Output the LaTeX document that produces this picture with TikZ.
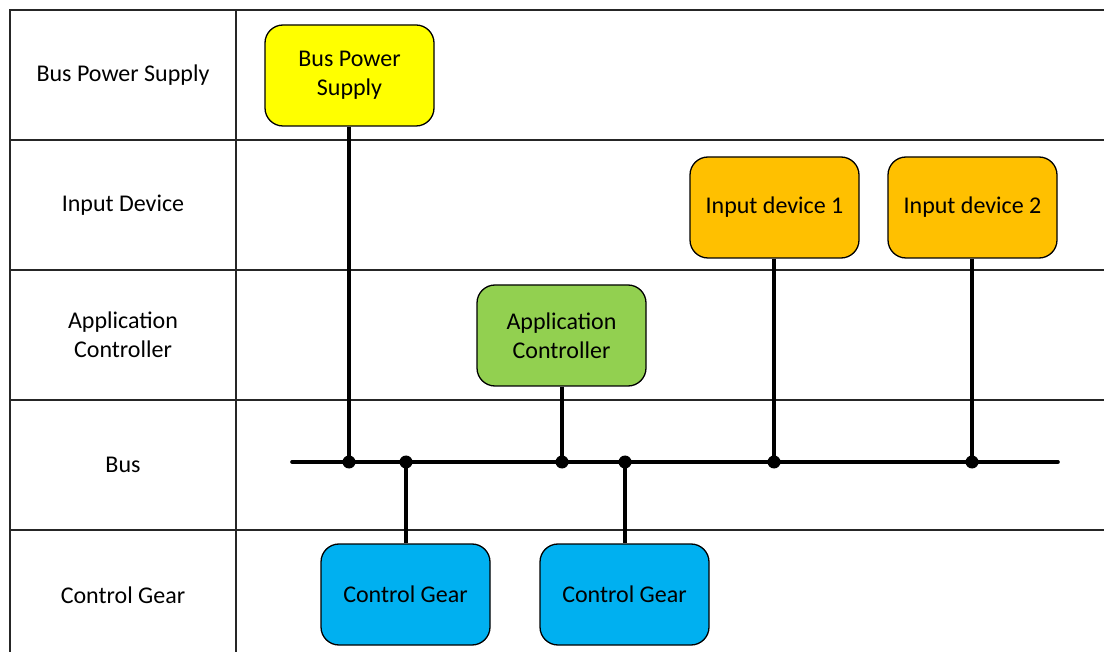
\documentclass[tikz,border=0pt]{standalone}
\usepackage{fontspec}
\setmainfont{Carlito}
\definecolor{psuyellow}{HTML}{FFFF00}
\definecolor{inorange}{HTML}{FFC000}
\definecolor{ctrlgreen}{HTML}{92D050}
\definecolor{gearblue}{HTML}{00B0F0}
\begin{document}
\begin{tikzpicture}[x=0.5pt,y=-0.5pt,
  every node/.style={font=\fontsize{12}{14.5}\selectfont, align=center},
  grid/.style={line width=0.7pt, black!85},
  unit/.style={draw=black, line width=0.65pt, rounded corners=9pt,
    minimum width=84.5pt, minimum height=50.5pt, inner sep=0pt},
  rowlabel/.style={inner sep=0pt},
  wire/.style={line width=1.8pt, line cap=round},
  junction/.style={circle, fill=black, inner sep=0pt, minimum size=6.5pt}]
\useasboundingbox (0,0) rectangle (1104,652);

% lane grid
\draw[grid] (10,652) -- (10,10) -- (1104,10);
\draw[grid] (236,10) -- (236,652);
\foreach \yy in {140,270,400,530}
  \draw[grid] (10,\yy) -- (1104,\yy);

% lane titles
\node[rowlabel] (lBPS) at (123,75) {Bus Power Supply};
\node[rowlabel] (lIN)  at (123,205) {Input Device};
\node[rowlabel] (lAC)  at (123,335) {Application\\Controller};
\node[rowlabel] (lBUS) at (123,465) {Bus};
\node[rowlabel] (lCG)  at (123,595) {Control Gear};

% devices
\node[unit, fill=psuyellow] (bps) at (349.5,75.5) {Bus Power\\Supply};
\node[unit, fill=inorange]  (in1) at (774.5,207.5) {Input device 1};
\node[unit, fill=inorange]  (in2) at (972.5,207.5) {Input device 2};
\node[unit, fill=ctrlgreen] (ac)  at (561.5,335.5) {Application\\Controller};
\node[unit, fill=gearblue]  (cg1) at (405.5,594.5) {Control Gear};
\node[unit, fill=gearblue]  (cg2) at (624.5,594.5) {Control Gear};

% bus line
\coordinate (busL) at (292,462);
\coordinate (busR) at (1058,462);
\draw[wire] (busL) -- (busR);

% taps on the bus
\node[junction] (jbps) at (349,462) {};
\node[junction] (jcg1) at (406,462) {};
\node[junction] (jac)  at (562,462) {};
\node[junction] (jcg2) at (625,462) {};
\node[junction] (jin1) at (774,462) {};
\node[junction] (jin2) at (972,462) {};

\draw[wire, line cap=butt] (bps.south -| jbps) -- (jbps.center);
\draw[wire, line cap=butt] (in1.south -| jin1) -- (jin1.center);
\draw[wire, line cap=butt] (in2.south -| jin2) -- (jin2.center);
\draw[wire, line cap=butt] (ac.south -| jac) -- (jac.center);
\draw[wire, line cap=butt] (jcg1.center) -- (cg1.north -| jcg1);
\draw[wire, line cap=butt] (jcg2.center) -- (cg2.north -| jcg2);
\end{tikzpicture}
\end{document}
